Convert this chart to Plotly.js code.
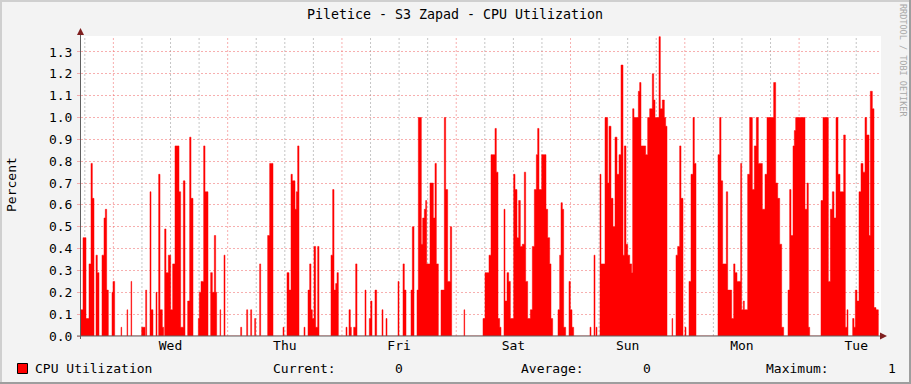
<!DOCTYPE html>
<html>
<head>
<meta charset="utf-8">
<script src="https://cdn.plot.ly/plotly-3.0.1.min.js"></script>
<style>
  html, body { margin: 0; padding: 0; background: #F3F3F3; }
  #chart { width: 911px; height: 384px; }
</style>
</head>
<body>
<div id="chart"></div>
<script>
// ---- data (hours since Tuesday 00:00, CPU utilization in percent) ----
const chartTitle = "Piletice - S3 Zapad - CPU Utilization";
const seriesName = "CPU Utilization";
const dayLabels = ["Wed", "Thu", "Fri", "Sat", "Sun", "Mon", "Tue"];
const dayNoonHours = [36, 60, 84, 108, 132, 156, 180];
const timeRange = [17.2, 185.2];
const legendCurrent = "0";
const legendAverage = "0";
const legendMaximum = "1";

const hours = [
  17.2, 17.62, 18.25, 18.88, 19.30, 19.58, 19.93, 20.35, 20.63, 20.98,
  21.61, 22.03, 22.31, 22.59, 22.94, 23.71, 23.92, 24.27, 25.60, 25.74,
  26.86, 27.00, 27.70, 27.84, 29.94, 30.64, 30.78, 30.99, 31.69, 31.90,
  32.32, 32.95, 33.16, 33.51, 33.79, 34.28, 34.56, 34.77, 35.05, 35.54,
  36.03, 36.45, 36.94, 37.78, 38.13, 38.69, 39.04, 39.60, 40.02, 40.30,
  40.72, 41.84, 42.05, 42.40, 42.96, 43.24, 43.87, 44.43, 44.78, 45.20,
  45.48, 45.69, 46.39, 46.53, 47.23, 47.44, 50.73, 50.94, 51.99, 52.20,
  52.83, 53.04, 53.67, 53.88, 54.72, 54.93, 56.40, 56.82, 57.52, 59.62,
  59.83, 60.46, 60.88, 61.30, 61.58, 62.14, 62.42, 62.70, 62.98, 64.03,
  64.24, 64.87, 65.22, 65.50, 65.78, 66.13, 66.48, 66.90, 67.18, 69.70,
  70.05, 70.33, 70.68, 70.96, 71.24, 72.85, 73.06, 73.48, 73.76, 73.97,
  74.46, 74.88, 75.16, 76.84, 77.05, 77.75, 78.03, 78.31, 78.94, 79.29,
  80.41, 80.62, 81.25, 81.46, 83.77, 83.98, 84.82, 85.10, 85.45, 86.50,
  86.78, 87.13, 87.76, 88.04, 88.67, 88.95, 89.30, 89.58, 89.79, 90.49,
  91.19, 91.54, 91.82, 92.24, 92.80, 93.50, 93.78, 94.20, 94.76, 95.04,
  97.63, 97.77, 101.62, 102.04, 102.88, 103.30, 104.14, 104.42, 104.77, 105.12,
  105.40, 106.03, 106.24, 106.66, 107.01, 107.36, 108.06, 108.34, 108.76, 109.11,
  109.46, 109.88, 110.30, 110.58, 111.00, 111.56, 111.98, 112.40, 112.82, 113.10,
  113.38, 113.94, 114.85, 115.20, 115.62, 115.90, 116.25, 117.37, 117.72, 118.00,
  118.28, 118.56, 118.98, 119.68, 119.96, 120.31, 120.66, 124.09, 124.30, 124.93,
  125.14, 125.35, 125.56, 126.19, 126.40, 127.24, 127.80, 128.08, 128.50, 128.92,
  129.34, 129.76, 130.18, 130.60, 131.02, 131.30, 131.65, 132.00, 132.42, 132.84,
  133.05, 133.33, 134.24, 134.52, 134.80, 135.78, 136.20, 136.62, 137.18, 137.46,
  137.74, 138.58, 138.86, 139.28, 139.70, 139.98, 140.26, 141.31, 141.45, 142.15,
  142.50, 142.92, 143.20, 143.62, 144.04, 144.25, 144.88, 145.30, 145.72, 146.00,
  146.35, 150.97, 151.32, 151.60, 151.95, 152.72, 153.00, 153.84, 154.26, 154.54,
  154.96, 155.73, 155.94, 156.29, 156.50, 157.20, 157.62, 158.18, 158.60, 159.02,
  159.44, 160.28, 160.84, 161.26, 162.66, 163.08, 163.50, 163.92, 164.34, 164.76,
  165.67, 166.02, 166.30, 166.72, 167.00, 167.28, 169.24, 169.66, 169.94, 170.22,
  172.60, 173.02, 174.14, 174.56, 174.98, 175.33, 175.75, 176.17, 176.59, 177.36,
  177.71, 178.06, 178.27, 179.25, 179.53, 179.81, 180.16, 180.58, 181.00, 181.42,
  181.84, 182.19, 182.68, 182.96, 183.38, 183.73, 184.15, 184.64
];
const cpuPercent = [
  0.12, 0.45, 0.08, 0.33, 0.79, 0.63, 0, 0.37, 0.29, 0,
  0.37, 0.54, 0.58, 0.21, 0, 0.20, 0.25, 0, 0.04, 0,
  0.12, 0, 0.25, 0, 0.04, 0, 0.21, 0, 0.66, 0.12,
  0, 0.20, 0, 0.74, 0.12, 0.04, 0, 0.49, 0.29, 0.37,
  0.12, 0.33, 0.87, 0.66, 0.04, 0.71, 0, 0.16, 0.91, 0.63,
  0, 0.08, 0.20, 0.25, 0.87, 0.66, 0, 0.29, 0.20, 0.46,
  0.20, 0, 0.12, 0, 0.37, 0, 0.04, 0, 0.12, 0,
  0.12, 0, 0.08, 0, 0.33, 0, 0.46, 0.79, 0, 0.04,
  0, 0.29, 0.21, 0.74, 0.71, 0.58, 0.66, 0.87, 0, 0.04,
  0, 0.21, 0.33, 0.12, 0.08, 0.41, 0.04, 0.41, 0, 0.37,
  0.67, 0.21, 0.24, 0.29, 0, 0.04, 0, 0.12, 0.04, 0,
  0.04, 0.33, 0, 0.21, 0, 0.08, 0.16, 0, 0.21, 0,
  0.12, 0, 0.08, 0, 0.25, 0, 0.33, 0.21, 0, 0.21,
  0.50, 0, 0.21, 1.0, 0.42, 0.54, 0.58, 0.62, 0.33, 0.70,
  0.54, 0.79, 0.33, 0, 0.21, 1.0, 0.67, 0.25, 0.50, 0,
  0.12, 0, 0.08, 0.29, 0.37, 0.83, 0.95, 0.75, 0.08, 0.04,
  0, 0.58, 0.16, 0.29, 0.25, 0.08, 0.74, 0.67, 0.45, 0.62,
  0.41, 0.42, 0.75, 0.25, 0.08, 0.12, 0.41, 0.67, 0.83, 0.95,
  0.67, 0.83, 0.58, 0.45, 0.33, 0.08, 0, 0.12, 0.37, 0.61,
  0.58, 0.04, 0, 0.25, 0.12, 0.04, 0, 0.04, 0, 0.37,
  0, 0.04, 0, 0.74, 0.33, 1.0, 0.70, 0.96, 0.63, 0.50,
  0.91, 0.74, 0.83, 1.24, 0.37, 0.87, 0.42, 0.37, 0.33, 0.29,
  1.04, 1.0, 1.12, 1.16, 0.87, 0.83, 1.0, 1.04, 1.20, 1.08,
  1.0, 1.37, 1.04, 1.08, 1.0, 0.96, 0, 0.08, 0, 0.37,
  0.41, 0.87, 0.63, 0, 0.04, 0, 0.25, 0.74, 1.0, 0.79,
  0, 0.83, 1.0, 0.71, 0.33, 0.66, 0.21, 0.08, 0.33, 0.29,
  0.25, 0.79, 0.12, 0.16, 0.12, 0.74, 1.0, 0.67, 0.87, 1.0,
  0.79, 0.58, 0.74, 1.0, 1.16, 0.70, 0.63, 0.42, 0.04, 0,
  0.21, 0.67, 0.46, 0.87, 0.94, 1.0, 0.58, 0.70, 0.04, 0,
  0.62, 1.0, 0.25, 0.58, 0.66, 0.54, 1.0, 0.74, 0.66, 0.92,
  0.04, 0.12, 0, 0.08, 0.04, 0.21, 0.16, 0.66, 0.79, 0.75,
  1.0, 0.92, 0.46, 1.12, 1.04, 0.13, 0.12, 0
];

// ---- layout helpers (pixel -> paper) ----
const L = 81, R = 881, T = 36, B = 336;
const PX = p => (p - L) / (R - L);
const PY = p => (B - p) / (B - T);
const FONT = "DejaVu Sans Mono, monospace";
const MINOR = "rgba(150,150,150,0.55)";
const MAJOR = "rgba(240,110,110,0.55)";

const shapes = [];
// vertical grid: minor every 6 h, major at midnight
for (let h = Math.ceil(timeRange[0] / 6) * 6; h < timeRange[1]; h += 6) {
  const major = h % 24 === 0;
  shapes.push({type: "line", xref: "x", yref: "paper", x0: h, x1: h, y0: 0, y1: 1,
    layer: "below", line: {color: major ? MAJOR : MINOR, width: 1, dash: "2px,2px"}});
}
// axes with arrows
shapes.push({type: "line", xref: "paper", yref: "paper", x0: PX(77), x1: PX(883), y0: 0, y1: 0,
  line: {color: "#606060", width: 1}, layer: "above"});
shapes.push({type: "line", xref: "paper", yref: "paper", x0: PX(80.5), x1: PX(80.5), y0: PY(339), y1: PY(31),
  line: {color: "#606060", width: 1}, layer: "above"});
shapes.push({type: "path", xref: "paper", yref: "paper", layer: "above",
  path: `M ${PX(77)},${PY(35)} L ${PX(84)},${PY(35)} L ${PX(80.5)},${PY(28)} Z`,
  fillcolor: "#7F1F1F", line: {width: 0}});
shapes.push({type: "path", xref: "paper", yref: "paper", layer: "above",
  path: `M ${PX(880)},${PY(332.5)} L ${PX(880)},${PY(339.5)} L ${PX(887)},${PY(336)} Z`,
  fillcolor: "#7F1F1F", line: {width: 0}});
// 3D frame
shapes.push({type: "rect", xref: "paper", yref: "paper", x0: PX(0), x1: PX(911), y0: PY(2), y1: PY(0),
  fillcolor: "#CFCFCF", line: {width: 0}, layer: "below"});
shapes.push({type: "rect", xref: "paper", yref: "paper", x0: PX(0), x1: PX(2), y0: PY(384), y1: PY(0),
  fillcolor: "#CFCFCF", line: {width: 0}, layer: "below"});
shapes.push({type: "rect", xref: "paper", yref: "paper", x0: PX(0), x1: PX(911), y0: PY(384), y1: PY(382),
  fillcolor: "#9E9E9E", line: {width: 0}, layer: "below"});
shapes.push({type: "rect", xref: "paper", yref: "paper", x0: PX(909), x1: PX(911), y0: PY(384), y1: PY(0),
  fillcolor: "#9E9E9E", line: {width: 0}, layer: "below"});
// legend swatch
shapes.push({type: "rect", xref: "paper", yref: "paper", x0: PX(17.5), x1: PX(27.5), y0: PY(373.5), y1: PY(363.5),
  fillcolor: "#FF0000", line: {color: "#000000", width: 1}});

const ann = (text, px, py, extra) => Object.assign({text, x: PX(px), y: PY(py), xref: "paper", yref: "paper",
  showarrow: false, xanchor: "left", yanchor: "middle", font: {family: FONT, size: 13, color: "#000"}}, extra || {});

const annotations = [
  ann(seriesName, 33, 368),
  ann("Current:", 271, 368),
  ann(legendCurrent, 393, 368),
  ann("Average:", 519, 368),
  ann(legendAverage, 641, 368),
  ann("Maximum:", 764, 368),
  ann(legendMaximum, 886, 368),
  ann("Percent", 11, 185, {textangle: -90, xanchor: "center"}),
  ann("RRDTOOL / TOBI OETIKER", 903, 60, {textangle: 90, xanchor: "center",
    font: {family: FONT, size: 8.5, color: "#A8A8A8"}})
];

const trace = {
  type: "scatter", mode: "lines", name: seriesName,
  x: hours, y: cpuPercent,
  line: {shape: "hv", color: "#FF0000", width: 0.5},
  fill: "tozeroy", fillcolor: "#FF0000",
  hoverinfo: "x+y"
};

const layout = {
  width: 911, height: 384,
  margin: {l: L, r: 911 - R, t: T, b: 384 - B, pad: 0},
  paper_bgcolor: "#F3F3F3", plot_bgcolor: "#FFFFFF",
  showlegend: false,
  title: {text: chartTitle, x: 455 / 911, xref: "container", xanchor: "center",
    y: 1 - 14 / 384, yref: "container", yanchor: "middle",
    font: {family: FONT, size: 13.3, color: "#000"}},
  xaxis: {range: timeRange, fixedrange: true, showgrid: false, zeroline: false, showline: false,
    tickmode: "array", tickvals: dayNoonHours, ticktext: dayLabels, ticks: "",
    tickfont: {family: FONT, size: 13, color: "#000"}},
  yaxis: {range: [0, 1.373], fixedrange: true, tickmode: "linear", tick0: 0, dtick: 0.1,
    tickformat: ".1f", showgrid: true, gridcolor: MAJOR, griddash: "2px,2px", gridwidth: 1,
    zeroline: false, showline: false, ticks: "outside", ticklen: 3, tickcolor: MAJOR,
    ticklabelstandoff: 2,
    tickfont: {family: FONT, size: 13, color: "#000"}},
  shapes, annotations
};

Plotly.newPlot("chart", [trace], layout, {staticPlot: true, displayModeBar: false});
</script>
</body>
</html>
